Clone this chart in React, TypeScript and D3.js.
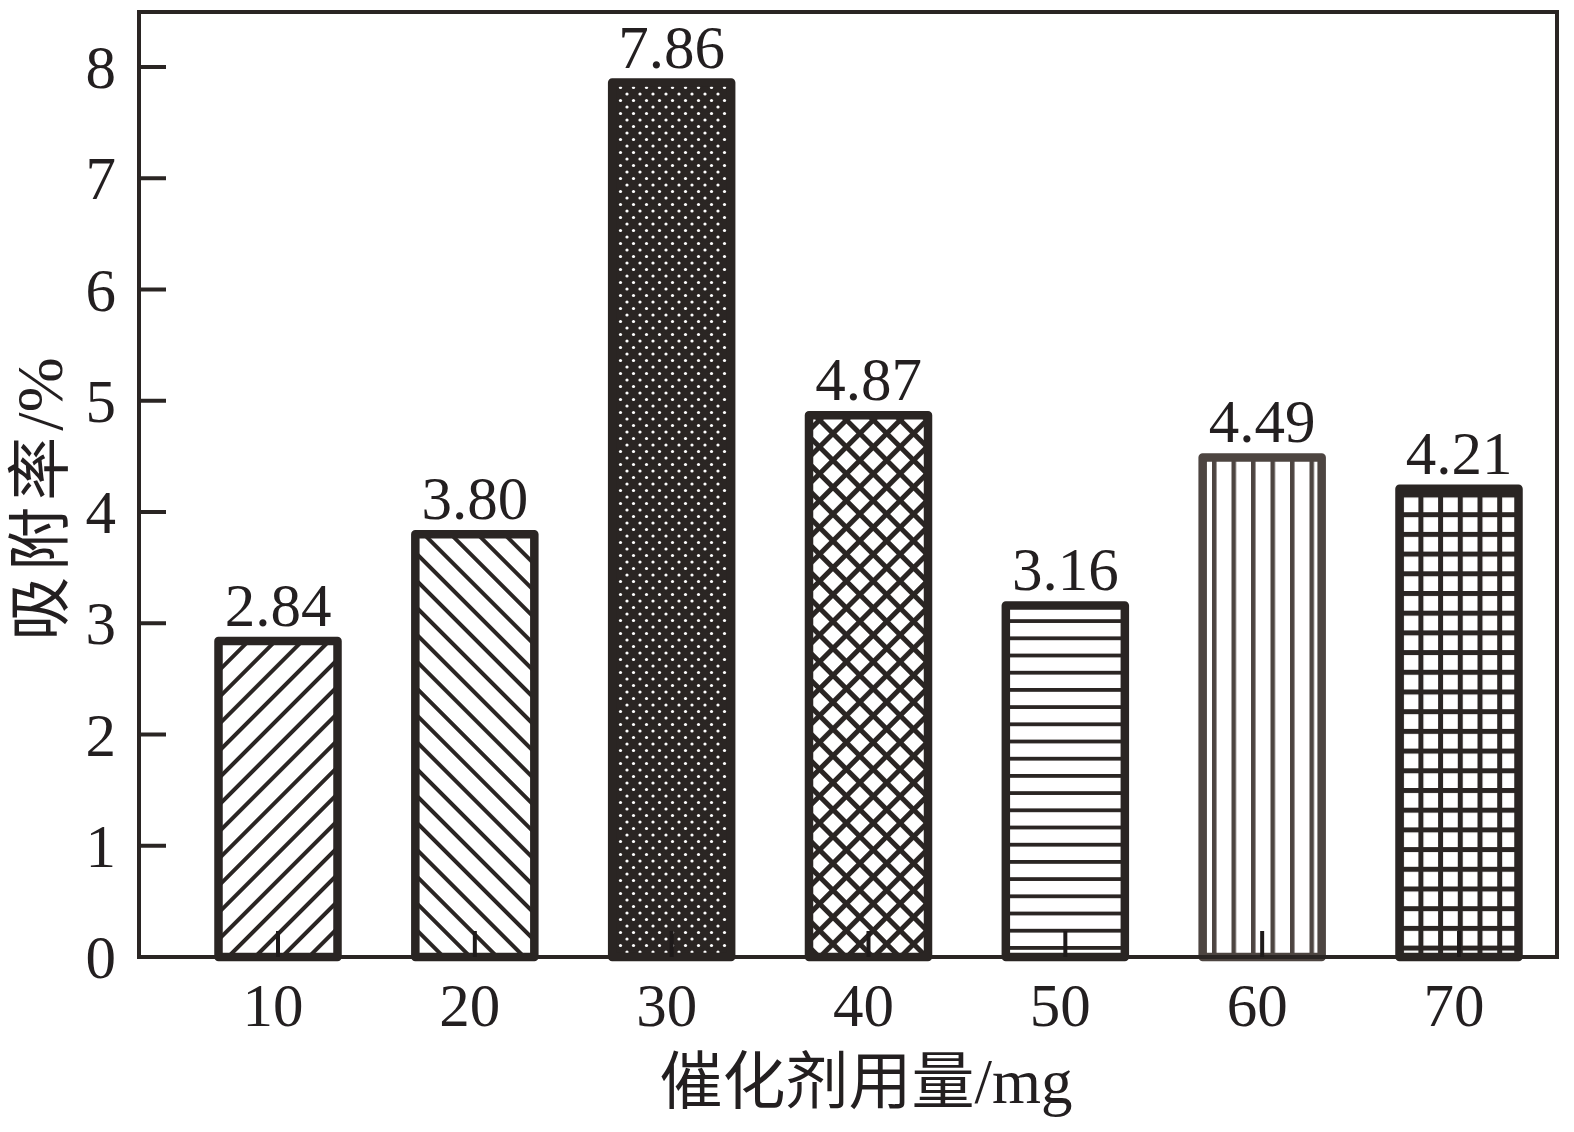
import React from "react";
import * as d3 from "d3";

const categories = [10, 20, 30, 40, 50, 60, 70];
const values = [2.84, 3.8, 7.86, 4.87, 3.16, 4.49, 4.21];
const valueLabels = ["2.84", "3.80", "7.86", "4.87", "3.16", "4.49", "4.21"];
const yTicks = [0, 1, 2, 3, 4, 5, 6, 7, 8];
const patternIds = ["p-fwd", "p-back", "p-dots", "p-cross", "p-horiz", "p-vert", "p-grid"];

const W = 1574;
const H = 1132;
const left = 139;
const right = 1557;
const top = 12;
const bottom = 957;
const dark = "#2a2523";
const serif = "'Liberation Serif', 'Times New Roman', serif";
const cjk = "'Noto Sans CJK SC', sans-serif";

export default function App() {
  const x = d3.scalePoint<number>().domain(categories).range([278, 1459]);
  const y = d3.scaleLinear().domain([0, 8]).range([bottom, 67]);
  const barW = 119;

  return (
    <svg width={W} height={H} style={{ position: "absolute", left: 0, top: 0, background: "#fff" }}>
      <defs>
        <pattern id="p-fwd" width={10} height={19} patternUnits="userSpaceOnUse" patternTransform="rotate(-45)">
          <rect x={0} y={0} width={10} height={4} fill={dark} />
        </pattern>
        <pattern id="p-back" width={10} height={19} patternUnits="userSpaceOnUse" patternTransform="rotate(45)">
          <rect x={0} y={0} width={10} height={4} fill={dark} />
        </pattern>
        <pattern id="p-dots" width={13} height={13} patternUnits="userSpaceOnUse">
          <rect width={13} height={13} fill={dark} />
          <circle cx={3} cy={3} r={1.6} fill="#fff" />
          <circle cx={9.5} cy={9.5} r={1.6} fill="#fff" />
        </pattern>
        <pattern id="p-cross" width={19} height={19} patternUnits="userSpaceOnUse" patternTransform="rotate(45)">
          <rect x={0} y={0} width={19} height={5} fill={dark} />
          <rect x={0} y={0} width={5} height={19} fill={dark} />
        </pattern>
        <pattern id="p-horiz" width={10} height={17.2} patternUnits="userSpaceOnUse">
          <rect x={0} y={0} width={10} height={3.8} fill={dark} />
        </pattern>
        <pattern id="p-vert" width={19.5} height={10} patternUnits="userSpaceOnUse" x={3}>
          <rect x={0} y={0} width={4.5} height={10} fill="#4d4541" />
        </pattern>
        <pattern id="p-grid" width={19.7} height={19.7} patternUnits="userSpaceOnUse">
          <rect x={0} y={0} width={19.7} height={5} fill={dark} />
          <rect x={0} y={0} width={5} height={19.7} fill={dark} />
        </pattern>
      </defs>

      {/* bars */}
      {categories.map((c, i) => {
        const cx = x(c)!;
        const yt = y(values[i]);
        return (
          <g key={c}>
            <rect x={cx - barW / 2} y={yt} width={barW} height={bottom - yt} fill="#fff" />
            <rect
              x={cx - barW / 2}
              y={yt}
              width={barW}
              height={bottom - yt}
              fill={`url(#${patternIds[i]})`}
              stroke={i === 5 ? "#4d4541" : dark}
              strokeWidth={8.5}
              strokeLinejoin="round"
            />
            <text x={cx} y={yt - 15} textAnchor="middle" fontFamily={serif} fontSize={61} fill="#231f20">
              {valueLabels[i]}
            </text>
          </g>
        );
      })}

      {/* frame */}
      <rect x={left} y={top} width={right - left} height={bottom - top} fill="none" stroke={dark} strokeWidth={4} />

      {/* y ticks */}
      {yTicks.map((t) => (
        <g key={t}>
          {t > 0 && <line x1={left} x2={left + 27} y1={y(t)} y2={y(t)} stroke={dark} strokeWidth={4} />}
          <text x={116} y={y(t) + 21} textAnchor="end" fontFamily={serif} fontSize={61} fill="#231f20">
            {t}
          </text>
        </g>
      ))}

      {/* x ticks */}
      {categories.map((c) => (
        <g key={c}>
          <line x1={x(c)!} x2={x(c)!} y1={bottom} y2={bottom - 26} stroke="#1e1a1a" strokeWidth={4} />
          <text x={x(c)! - 5} y={1026} textAnchor="middle" fontFamily={serif} fontSize={61} fill="#231f20">
            {c}
          </text>
        </g>
      ))}

      {/* axis titles */}
      <text x={866} y={1103} textAnchor="middle" fontSize={63} fill="#231f20">
        <tspan fontFamily={cjk}>催化剂用量</tspan>
        <tspan fontFamily={serif}>/mg</tspan>
      </text>
      <text transform={`translate(62, 499) rotate(-90)`} textAnchor="middle" fontSize={64} fill="#231f20">
        <tspan fontFamily={cjk} letterSpacing={6}>吸附率</tspan>
        <tspan fontFamily={serif} fontSize={66}>/%</tspan>
      </text>
    </svg>
  );
}
